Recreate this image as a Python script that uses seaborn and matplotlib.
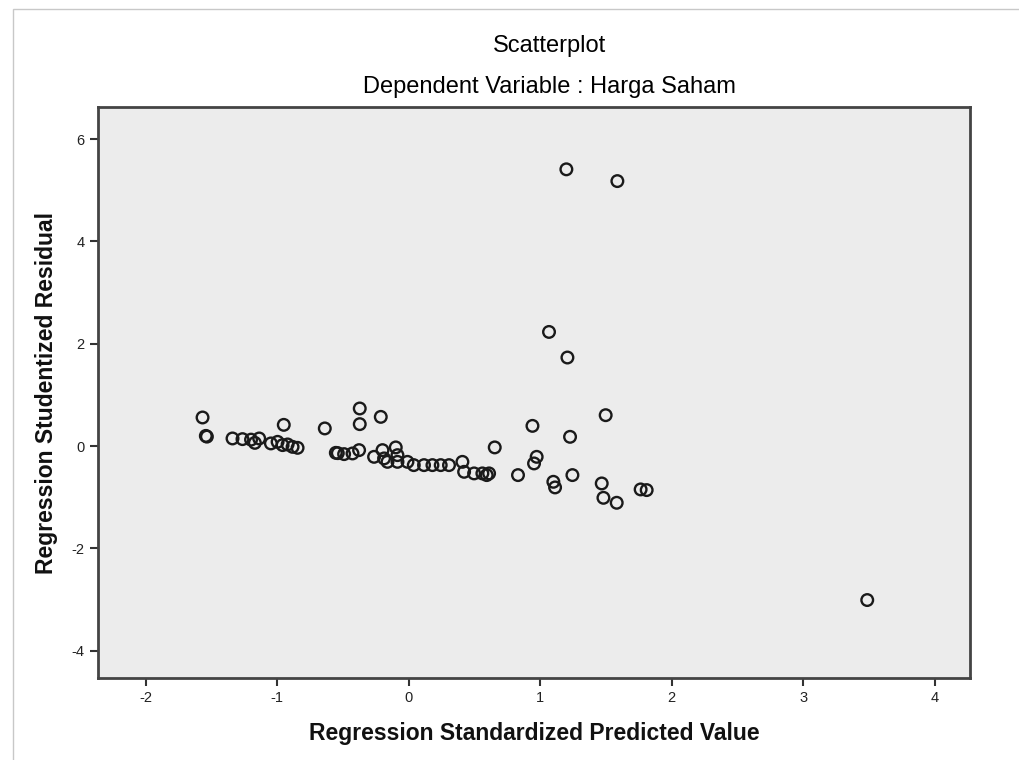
import pandas as pd
import matplotlib.pyplot as plt
import seaborn as sns
from matplotlib.patches import Rectangle

# Standardized predicted values (x) and studentized residuals (y)
predicted = [
    -1.569, -1.544, -1.536, -1.341, -1.265, -1.200, -1.138, -1.171, -1.049, -0.998,
    -0.960, -0.922, -0.884, -0.846, -0.951, -0.639, -0.555, -0.540, -0.492, -0.428,
    -0.378, -0.373, -0.373, -0.213, -0.264, -0.200, -0.188, -0.162, -0.099, -0.086,
    -0.086, -0.010, 0.038, 0.116, 0.180, 0.243, 0.306, 0.408, 0.421, 0.497,
    0.560, 0.611, 0.593, 0.654, 0.831, 0.941, 0.973, 0.953, 1.100, 1.113,
    1.227, 1.245, 1.498, 1.468, 1.481, 1.582, 1.764, 1.810, 1.199, 1.587,
    1.067, 1.207, 3.488,
]
residual = [
    0.560, 0.200, 0.186, 0.150, 0.137, 0.127, 0.150, 0.064, 0.053, 0.084,
    0.020, 0.033, -0.014, -0.033, 0.416, 0.346, -0.131, -0.137, -0.156, -0.143,
    -0.078, 0.736, 0.430, 0.572, -0.209, -0.078, -0.240, -0.307, -0.025, -0.176,
    -0.307, -0.307, -0.371, -0.371, -0.371, -0.371, -0.371, -0.307, -0.502, -0.533,
    -0.533, -0.533, -0.566, -0.025, -0.566, 0.396, -0.209, -0.338, -0.697, -0.807,
    0.182, -0.566, 0.605, -0.729, -1.010, -1.107, -0.846, -0.859, 5.410, 5.180,
    2.232, 1.732, -3.008,
]

x_ticks = [-2, -1, 0, 1, 2, 3, 4]
y_ticks = [-4, -2, 0, 2, 4, 6]

df = pd.DataFrame({'pred': predicted, 'resid': residual})

sns.set_style('ticks')
plt.rcParams['font.family'] = ['Liberation Sans', 'DejaVu Sans']

fig = plt.figure(figsize=(10.2, 7.6), dpi=100)
ax = fig.add_axes([0.096, 0.108, 0.855, 0.751])
ax.set_facecolor('#ececec')

sns.scatterplot(data=df, x='pred', y='resid', ax=ax, marker='o', s=70,
                facecolor='none', edgecolor='#1a1a1a', linewidth=1.7)

ax.set_xlim(-2.365, 4.27)
ax.set_ylim(-4.53, 6.625)
ax.set_xticks(x_ticks)
ax.set_yticks(y_ticks)
ax.set_xticklabels([str(t) for t in x_ticks])
ax.set_yticklabels([str(t) for t in y_ticks])
ax.tick_params(axis='both', direction='out', length=6, width=1.5, color='#333333',
               labelsize=10.5, labelcolor='#222222')

for side in ['left', 'bottom', 'right', 'top']:
    ax.spines[side].set_visible(True)
    ax.spines[side].set_color('#444444')
    ax.spines[side].set_linewidth(2)

ax.set_xlabel('Regression Standardized Predicted Value', fontsize=16.5,
              fontweight='bold', labelpad=12, color='#111111')
ax.set_ylabel('Regression Studentized Residual', fontsize=16.5,
              fontweight='bold', labelpad=10, color='#111111')

title_font = ['Liberation Sans Narrow', 'Liberation Sans', 'DejaVu Sans']
fig.text(0.539, 0.940, 'Scatterplot', ha='center', va='center', fontsize=17,
         family=title_font, color='black')
fig.text(0.539, 0.885, 'Dependent Variable : Harga Saham', ha='center', va='center',
         fontsize=17, family=title_font, color='black')

# thin frame around the chart, as in the export
fig.patches.append(Rectangle((0.013, -0.01), 1.0, 0.998, transform=fig.transFigure,
                             fill=False, edgecolor='#c8c8c8', linewidth=1))

fig.savefig('out.png', dpi=100)
plt.close(fig)
